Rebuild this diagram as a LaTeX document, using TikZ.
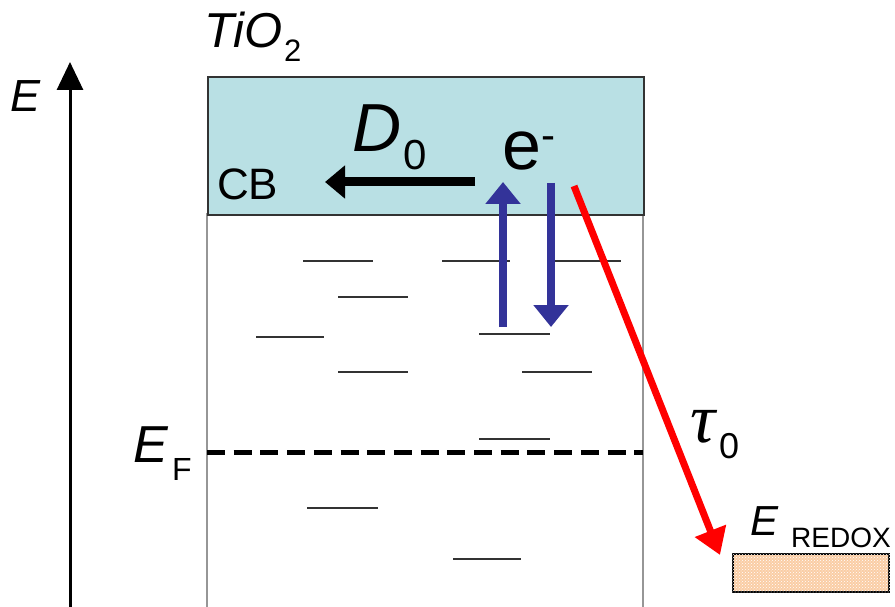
\documentclass[tikz,border=0pt]{standalone}
\usepackage{fontspec}
\setmainfont{Liberation Sans}
\newfontfamily\greekfont{Liberation Serif}
\usetikzlibrary{arrows.meta,patterns}
\newcommand{\fsz}[1]{\fontsize{#1}{#1}\selectfont}
\definecolor{cbblue}{RGB}{185,224,228}
\definecolor{trapblue}{RGB}{51,51,153}
\definecolor{redoxorange}{RGB}{250,205,165}
\definecolor{wallgray}{RGB}{150,150,150}
\tikzset{
  lbl/.style={inner sep=0pt, anchor=base west},
  trap/.style={line width=2.5pt, draw=black!80},
  hop/.style={line width=8pt, draw=trapblue, -{Triangle[length=22pt,width=34pt]}}
}
\begin{document}
\begin{tikzpicture}[x=1pt, y=-1pt]
\useasboundingbox (0,0) rectangle (895,607);

% energy axis
\coordinate (axisbot) at (70,607);
\coordinate (axistop) at (70,62);
\draw[line width=3pt, -{Triangle[length=28pt,width=26pt]}] (axisbot) -- (axistop);
\node[lbl] (elabel) at (10,112) {\fsz{45pt}\itshape E};

% TiO2 film
\node[lbl] (tio) at (204,48) {\fsz{49pt}\itshape TiO};
\node[lbl] (tiosub) at (284,62) {\fsz{31pt}2};
\draw[line width=2pt, draw=wallgray] (207,213) -- (207,607);
\draw[line width=2pt, draw=wallgray] (643,213) -- (643,607);
\node[draw=black!80, line width=2pt, fill=cbblue, minimum width=436pt, minimum height=138pt, anchor=north west, inner sep=0pt] (cb) at (207,76) {};
\node[lbl] (cblabel) at (217,200) {\fsz{44pt}CB};

% trap states
\foreach \xa/\xb/\y in {303/373/261, 442/510/261, 555/621/261, 338/408/297, 256/324/337,
  479/550/334, 338/408/372, 522/592/372, 479/550/439, 307/378/508, 453/521/559}
  \draw[trap] (\xa,\y) -- (\xb,\y);

% Fermi level
\draw[line width=5pt, dash pattern=on 18pt off 8.7pt] (207,452) -- (643,452);
\node[lbl] (ef) at (133,462) {\fsz{52pt}\itshape E};
\node[lbl] (efsub) at (172,480) {\fsz{32pt}F};

% electron and transport
\node[lbl] (elec) at (502,170) {\fsz{70pt}e};
\node[lbl] (elecsup) at (541,150) {\fsz{42pt}-};
\coordinate (dstart) at (475,182);
\coordinate (dend) at (325,182);
\draw[line width=9pt, -{Triangle[length=20pt,width=32pt]}] (dstart) -- (dend);
\node[lbl] (dlabel) at (352,152) {\fsz{68pt}\itshape D};
\node[lbl] (dsub) at (403,170) {\fsz{42pt}0};

% trapping / detrapping
\coordinate (upbot) at (503,327);
\coordinate (uptop) at (503,182);
\coordinate (dntop) at (551,183);
\coordinate (dnbot) at (551,327);
\draw[hop] (upbot) -- (uptop);
\draw[hop] (dntop) -- (dnbot);

% recombination
\coordinate (rstart) at (574,186);
\coordinate (rend) at (720,555);
\draw[line width=7pt, draw=red, -{Triangle[length=26pt,width=32pt]}] (rstart) -- (rend);
\node[lbl] (tau) at (690,442) {\fsz{70pt}\greekfont\itshape τ};
\node[lbl] (tausub) at (719,458) {\fsz{36pt}0};

% redox level
\node[draw, line width=2pt, fill=redoxorange, minimum width=156pt, minimum height=38pt, anchor=north west, inner sep=0pt] (redox) at (732,553) {};
\fill[pattern=crosshatch dots, pattern color=white] (redox.north west) rectangle (redox.south east);
\node[lbl] (eredox) at (750,535) {\fsz{42pt}\itshape E};
\node[lbl] (redoxsub) at (791,547) {\fsz{28pt}REDOX};
\end{tikzpicture}
\end{document}
